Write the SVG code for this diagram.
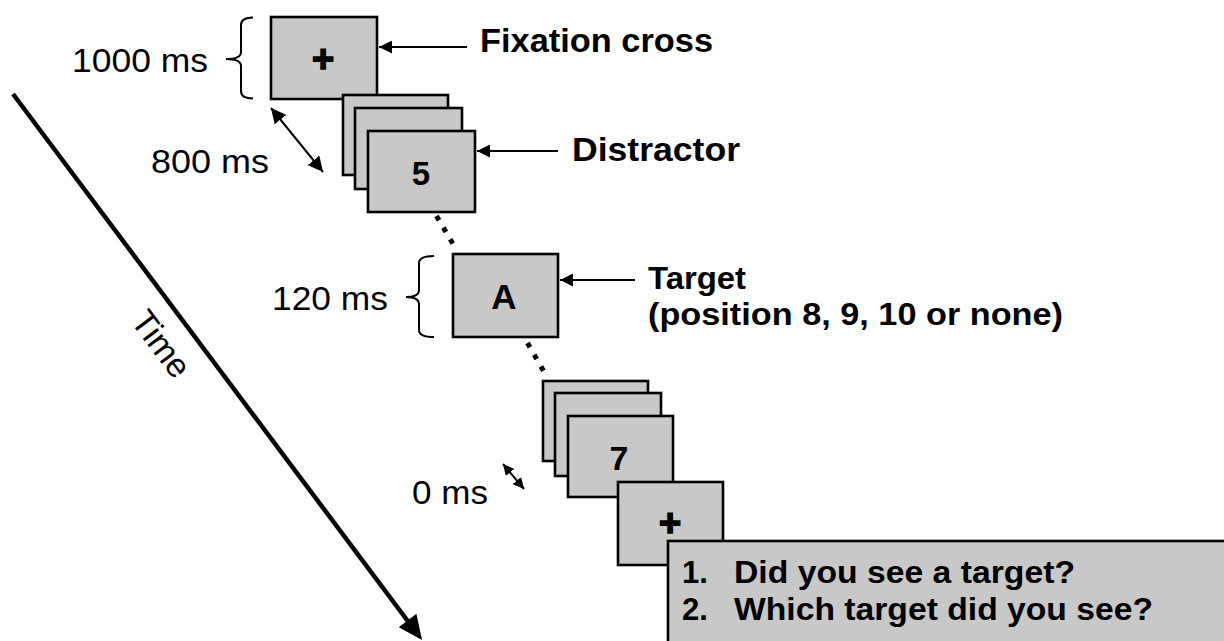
<svg xmlns="http://www.w3.org/2000/svg" width="1224" height="641" viewBox="0 0 1224 641">
<style>
.scr{fill:#c8c8c8;stroke:#000;stroke-width:2.6}
.reg{font-family:"Liberation Sans",Arial,sans-serif;font-size:34px;fill:#000}
.bold{font-family:"Liberation Sans",Arial,sans-serif;font-weight:bold;font-size:33px;fill:#000}
.ctr{text-anchor:middle}
.plus{stroke:#000;stroke-width:1.6}
.ln{stroke:#000;stroke-width:2;fill:none}
.dots{stroke:#000;stroke-width:5;fill:none;stroke-dasharray:5 8.5}
</style>
<defs>
<marker id="ah" viewBox="0 0 12 12" refX="12" refY="6" markerWidth="13" markerHeight="13" markerUnits="userSpaceOnUse" orient="auto-start-reverse">
<path d="M0,0 L12,6 L0,12 Z" fill="#000"/>
</marker>
<marker id="ahm" viewBox="0 0 12 12" refX="12" refY="6" markerWidth="15" markerHeight="15" markerUnits="userSpaceOnUse" orient="auto-start-reverse">
<path d="M0,0 L12,6 L0,12 Z" fill="#000"/>
</marker>
<marker id="ahs" viewBox="0 0 12 12" refX="12" refY="6" markerWidth="11" markerHeight="11" markerUnits="userSpaceOnUse" orient="auto-start-reverse">
<path d="M0,0 L12,6 L0,12 Z" fill="#000"/>
</marker>
</defs>

<g id="time-axis">
<line x1="13" y1="94" x2="410" y2="624" stroke="#000" stroke-width="4.5"/>
<polygon points="422,640 416.4,613.8 398.8,627.2" fill="#000"/>
<text class="reg ctr" transform="translate(152,351) rotate(53.13)" style="font-size:34px">Time</text>
</g>

<g id="fixation1">
<rect class="scr" x="271" y="17" width="106" height="82"/>
<text class="bold ctr plus" x="323" y="72" style="font-size:38px">+</text>
</g>

<g id="distractor">
<rect class="scr" x="343" y="95" width="105" height="80"/>
<rect class="scr" x="355" y="108" width="107" height="81"/>
<rect class="scr" x="368" y="131" width="107" height="81"/>
<text class="bold ctr" x="421" y="185">5</text>
</g>

<g id="target">
<rect class="scr" x="453" y="254" width="105" height="83"/>
<text class="bold ctr" x="504" y="309" style="font-size:35px">A</text>
</g>

<g id="post-distractor">
<rect class="scr" x="543" y="381" width="105" height="80"/>
<rect class="scr" x="555" y="393" width="106" height="83"/>
<rect class="scr" x="568" y="416" width="105" height="81"/>
<text class="bold ctr" x="619" y="470" style="font-size:34px">7</text>
</g>

<g id="fixation2">
<rect class="scr" x="618" y="482" width="105" height="83"/>
<text class="bold ctr plus" x="670" y="536" style="font-size:38px">+</text>
</g>

<g id="questions">
<rect class="scr" x="668" y="541" width="570" height="110"/>
<text class="bold" x="682" y="583" style="font-size:31px">1.</text>
<text class="bold" x="734" y="583" style="font-size:31px" textLength="341" lengthAdjust="spacingAndGlyphs">Did you see a target?</text>
<text class="bold" x="682" y="620" style="font-size:31px">2.</text>
<text class="bold" x="734" y="620" style="font-size:31px" textLength="419" lengthAdjust="spacingAndGlyphs">Which target did you see?</text>
</g>

<g id="labels">
<text class="bold" x="480" y="52" textLength="233" lengthAdjust="spacingAndGlyphs">Fixation cross</text>
<text class="bold" x="572" y="161" textLength="168" lengthAdjust="spacingAndGlyphs">Distractor</text>
<text class="bold" x="648" y="289" style="font-size:32px" textLength="98" lengthAdjust="spacingAndGlyphs">Target</text>
<text class="bold" x="648" y="325" style="font-size:32px" textLength="415" lengthAdjust="spacingAndGlyphs">(position 8, 9, 10 or none)</text>
<text class="reg" x="72" y="72" textLength="136" lengthAdjust="spacingAndGlyphs">1000 ms</text>
<text class="reg" x="151" y="173" textLength="118" lengthAdjust="spacingAndGlyphs">800 ms</text>
<text class="reg" x="272" y="310" textLength="116" lengthAdjust="spacingAndGlyphs">120 ms</text>
<text class="reg" x="412" y="504" textLength="76" lengthAdjust="spacingAndGlyphs">0 ms</text>
</g>

<g id="connectors">
<line class="ln" x1="467" y1="47" x2="379" y2="47" marker-end="url(#ah)"/>
<line class="ln" x1="558" y1="151" x2="477" y2="151" marker-end="url(#ah)"/>
<line class="ln" x1="635" y1="280" x2="560" y2="280" marker-end="url(#ah)"/>
<line class="ln" x1="271" y1="108" x2="323" y2="172" marker-start="url(#ahm)" marker-end="url(#ahm)"/>
<line class="ln" x1="503" y1="464" x2="524" y2="489" stroke-width="2.4" marker-start="url(#ahs)" marker-end="url(#ahs)"/>
<path class="ln" d="M253,17.5 Q241,17.5 241,25 V52 Q241,59 226,59 Q241,59 241,66 V91 Q241,98.5 253,98.5"/>
<path class="ln" d="M434,256 Q419,256 419,263 V290 Q419,297 406,297 Q419,297 419,304 V330 Q419,337 434,337"/>
<line class="dots" x1="436.5" y1="216" x2="456" y2="249"/>
<line class="dots" x1="527.5" y1="343" x2="547" y2="377"/>
</g>
</svg>
